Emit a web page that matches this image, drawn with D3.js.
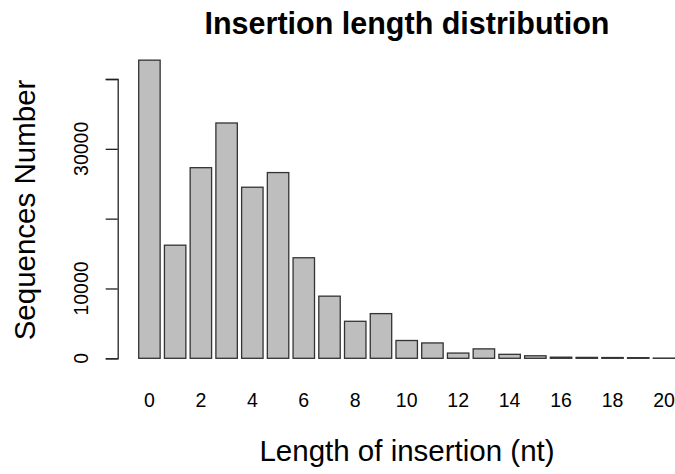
<!DOCTYPE html>
<html>
<head>
<meta charset="utf-8">
<script src="https://d3js.org/d3.v7.min.js"></script>
<style>
  body { margin: 0; background: #fff; }
  text { font-family: "Liberation Sans", Arial, sans-serif; fill: #000; }
</style>
</head>
<body>
<svg id="chart" width="675" height="474"></svg>
<script>
// insertion length (nt) and number of sequences
const lengths = d3.range(0, 21);
const counts = [42700, 16200, 27300, 33700, 24500, 26600, 14400, 8900, 5300, 6400,
                2550, 2200, 750, 1350, 570, 360, 160, 130, 110, 90, 30];
const xTickLabels = [0, 2, 4, 6, 8, 10, 12, 14, 16, 18, 20];
const yTicks = [0, 10000, 20000, 30000, 40000];
const yTickLabels = [0, 10000, 30000];   // R drops the overlapping ones

const svg = d3.select("#chart");

const x = d3.scaleBand()
  .domain(lengths)
  .range([138.7, 674.7])
  .paddingInner(0.2 / 1.2)
  .paddingOuter(0);

const y = d3.scaleLinear()
  .domain([0, 40000])
  .range([358.3, 79]);

const plotCenter = 407;

// bars
svg.append("g")
  .selectAll("rect")
  .data(lengths)
  .enter().append("rect")
  .attr("x", d => x(d))
  .attr("y", d => y(counts[d]))
  .attr("width", x.bandwidth())
  .attr("height", d => y(0) - y(counts[d]))
  .attr("fill", "#bebebe")
  .attr("stroke", "#333")
  .attr("stroke-width", 1.3);

// y axis
const yAxis = svg.append("g")
  .attr("transform", "translate(117.7,0)")
  .call(d3.axisLeft(y).tickValues(yTicks).tickSize(12).tickFormat(""));
yAxis.select(".domain").attr("stroke", "#222").attr("stroke-width", 1.3);
yAxis.selectAll(".tick line").attr("stroke", "#222").attr("stroke-width", 1.3);

svg.append("g")
  .selectAll("text")
  .data(yTickLabels)
  .enter().append("text")
  .attr("transform", d => "translate(88," + y(d) + ") rotate(-90)")
  .attr("text-anchor", "middle")
  .style("font-size", "19.5px")
  .text(d => d);

// x tick labels (no axis line, as in R barplot with names.arg)
svg.append("g")
  .selectAll("text")
  .data(xTickLabels)
  .enter().append("text")
  .attr("x", d => x(d) + x.bandwidth() / 2)
  .attr("y", 406.5)
  .attr("text-anchor", "middle")
  .style("font-size", "19.5px")
  .text(d => d);

// title and axis titles
svg.append("text")
  .attr("x", plotCenter)
  .attr("y", 33.5)
  .attr("text-anchor", "middle")
  .style("font-size", "30.5px")
  .style("font-weight", "bold")
  .text("Insertion length distribution");

svg.append("text")
  .attr("x", plotCenter)
  .attr("y", 461)
  .attr("text-anchor", "middle")
  .style("font-size", "29.5px")
  .text("Length of insertion (nt)");

svg.append("text")
  .attr("transform", "translate(35,210) rotate(-90)")
  .attr("text-anchor", "middle")
  .style("font-size", "29.5px")
  .text("Sequences Number");
</script>
</body>
</html>
